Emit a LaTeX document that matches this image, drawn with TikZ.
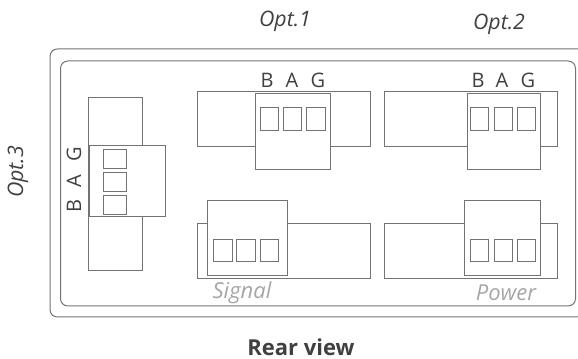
\documentclass[tikz,border=0pt]{standalone}
\usepackage{fontspec}
\setmainfont{Open Sans}
\definecolor{ln}{HTML}{737373}
\definecolor{tx}{HTML}{404040}
\definecolor{lt}{HTML}{A6A6A6}
\tikzset{
  x=0.75pt,y=-0.75pt,
  frame/.style={draw=ln,line width=0.75pt},
  part/.style={draw=ln,line width=0.7pt,fill=white},
  lab/.style={text=tx,font=\fontsize{15pt}{17pt}\selectfont,inner sep=0pt},
  opt/.style={text=tx,font=\itshape\fontsize{16pt}{18pt}\selectfont,inner sep=0pt},
  sig/.style={text=lt,font=\itshape\fontsize{16.5pt}{18pt}\selectfont,inner sep=0pt},
}
\begin{document}
\begin{tikzpicture}
\useasboundingbox (0,0) rectangle (578,359);
\clip (0,0) rectangle (578,359);
\draw[frame,rounded corners=5.5pt] (50,49) rectangle (590,317);
\draw[frame,rounded corners=5.5pt] (60.5,61) rectangle (575.5,306);
% option 3
\draw[part] (88,97) rectangle (142.5,270);
\draw[part] (89.5,145.5) rectangle (165,216.5);
\draw[part] (103,149.5) rectangle (126,168);
\draw[part] (103,172.5) rectangle (126,191);
\draw[part] (103,195.5) rectangle (126,214);
% option 1
\draw[part] (197,91) rectangle (370,146);
\draw[part] (255,93.5) rectangle (330,169);
\draw[part] (260,107) rectangle (278,130);
\draw[part] (283.5,107) rectangle (301.5,130);
\draw[part] (306.5,107) rectangle (325,130);
% option 2
\draw[part] (384,91) rectangle (557,146);
\draw[part] (467,93.5) rectangle (540.5,169);
\draw[part] (470.5,107) rectangle (488.5,130);
\draw[part] (494,107) rectangle (512,130);
\draw[part] (517,107) rectangle (535.5,130);
% signal
\draw[part] (197,223) rectangle (370,278);
\draw[part] (207.5,200) rectangle (287.5,275.5);
\draw[part] (213,239) rectangle (232,261.5);
\draw[part] (236.5,239) rectangle (255,261.5);
\draw[part] (260,239) rectangle (278.5,261.5);
% power
\draw[part] (384,223) rectangle (557,278);
\draw[part] (464,200) rectangle (540.5,275.5);
\draw[part] (470.5,239) rectangle (488.5,261.5);
\draw[part] (494,239) rectangle (512,261.5);
\draw[part] (517,239) rectangle (535.5,261.5);
% labels
\node[lab] (b1) at (267,80) {B};
\node[lab] (a1) at (292,80) {A};
\node[lab] (g1) at (318,80) {G};
\node[lab] (b2) at (478,80) {B};
\node[lab] (a2) at (502,80) {A};
\node[lab] (g2) at (528,80) {G};
\node[lab,rotate=90] (b3) at (74,206) {B};
\node[lab,rotate=90] (a3) at (74,181) {A};
\node[lab,rotate=90] (g3) at (74,154) {G};
\node[opt] (o1) at (285,21) {Opt.1};
\node[opt] (o2) at (499,24) {Opt.2};
\node[opt,rotate=90] (o3) at (18,172) {Opt.3};
\node[sig] (s) at (242,293) {Signal};
\node[sig] (p) at (506,293) {Power};
\node[text=tx,font=\bfseries\fontsize{16.5pt}{18pt}\selectfont,inner sep=0pt] (r) at (301,347) {Rear view};
\end{tikzpicture}
\end{document}
